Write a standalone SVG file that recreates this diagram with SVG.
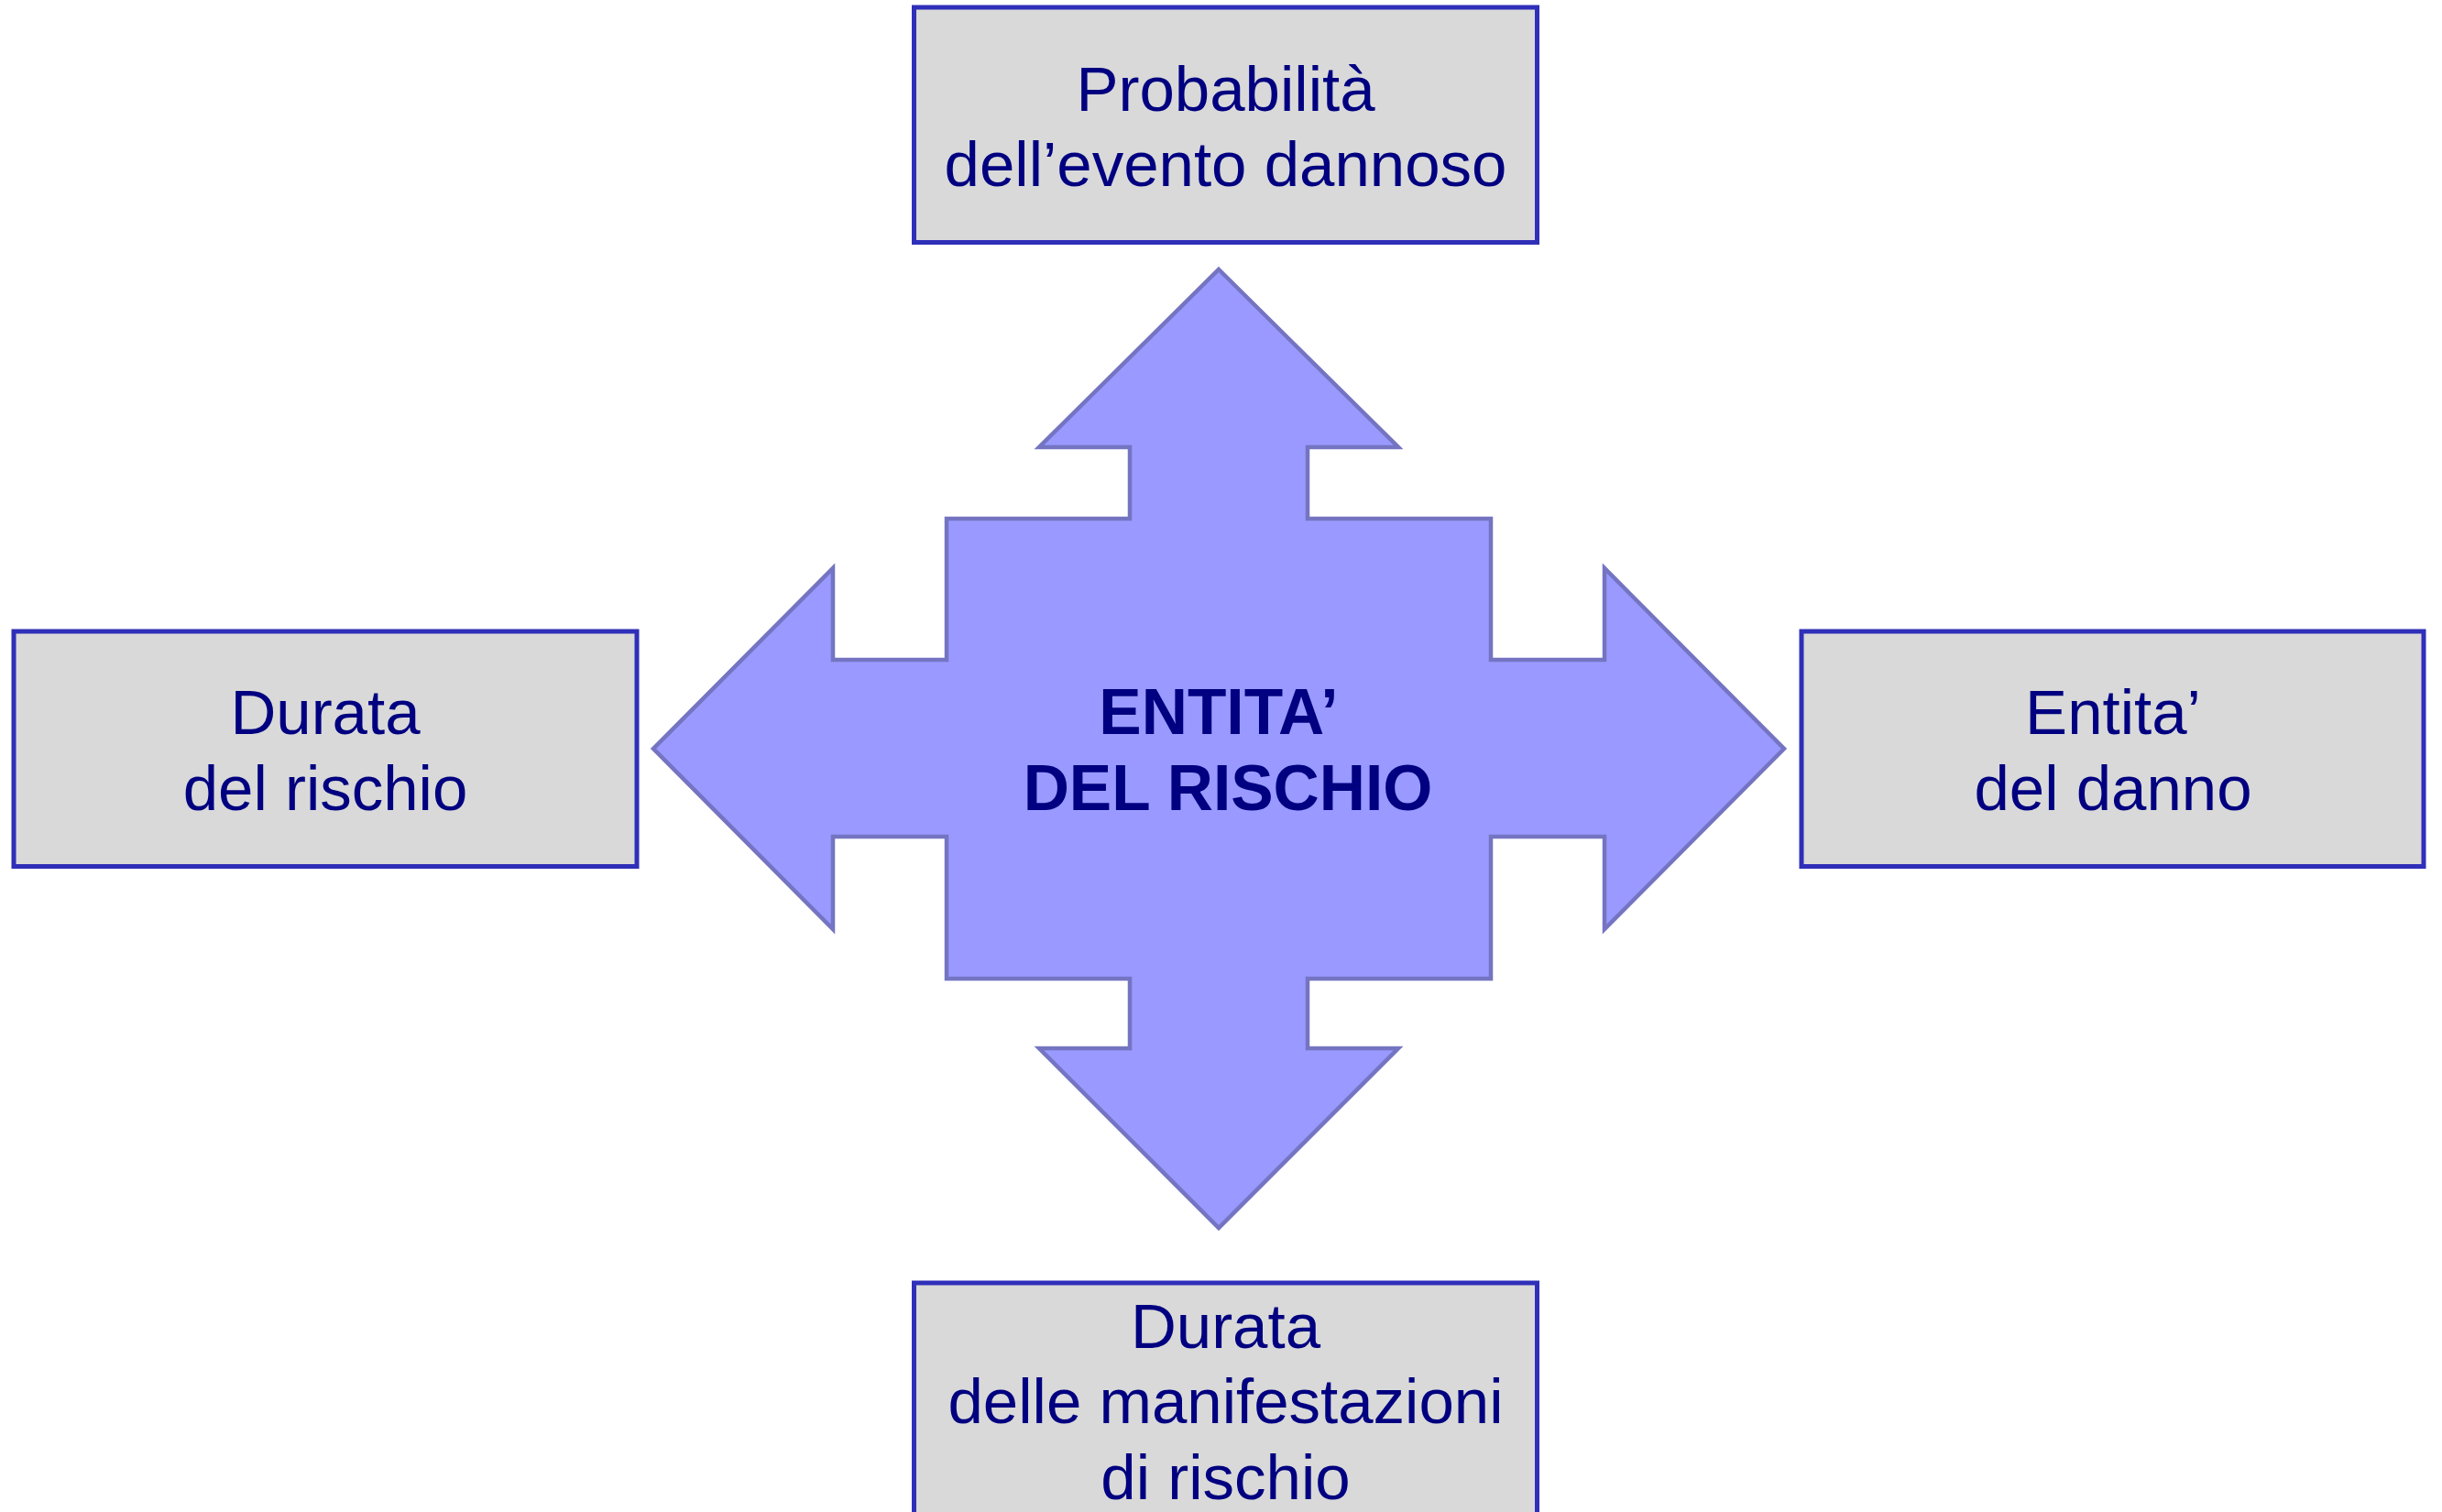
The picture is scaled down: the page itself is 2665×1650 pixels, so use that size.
<svg xmlns="http://www.w3.org/2000/svg" width="2665" height="1650" viewBox="0 0 2665 1650">
<style>
.box{fill:#d9d9d9;stroke:#2f2fb9;stroke-width:5}
.arrow{fill:#9999ff;stroke:#7474c2;stroke-width:4.5;stroke-linejoin:miter}
.t{font-family:"Liberation Sans",Arial,sans-serif;font-size:69px;fill:#000080;text-anchor:middle}
.b{font-weight:bold;font-size:69.5px}
</style>
<rect width="2665" height="1650" fill="#ffffff"/>
<g id="center">
<polygon class="arrow" points="1330,294 1526,488 1427,488 1427,566 1627,566 1627,720 1751,720 1751,620 1947,817 1751,1014 1751,913 1627,913 1627,1068 1427,1068 1427,1144 1526,1144 1330,1340 1134,1144 1233,1144 1233,1068 1033,1068 1033,913 909,913 909,1014 713,817 909,620 909,720 1033,720 1033,566 1233,566 1233,488 1134,488"/>
<text class="t b" x="1330" y="801">ENTITA’</text>
<text class="t b" x="1340" y="884">DEL RISCHIO</text>
</g>
<g id="probabilita">
<rect class="box" x="997.5" y="8" width="680" height="256.5"/>
<text class="t" x="1337.5" y="120.5">Probabilità</text>
<text class="t" x="1337.5" y="203">dell’evento dannoso</text>
</g>
<g id="durata-rischio">
<rect class="box" x="15" y="689" width="680" height="256.5"/>
<text class="t" x="355" y="801">Durata</text>
<text class="t" x="355" y="884">del rischio</text>
</g>
<g id="entita-danno">
<rect class="box" x="1966" y="689" width="679" height="256.5"/>
<text class="t" x="2306" y="801">Entita’</text>
<text class="t" x="2306" y="884">del danno</text>
</g>
<g id="durata-manifestazioni">
<rect class="box" x="997.5" y="1400" width="680" height="256.5"/>
<text class="t" x="1337.5" y="1471">Durata</text>
<text class="t" x="1337.5" y="1553">delle manifestazioni</text>
<text class="t" x="1337.5" y="1636">di rischio</text>
</g>
<g id="connectors"/>
</svg>
